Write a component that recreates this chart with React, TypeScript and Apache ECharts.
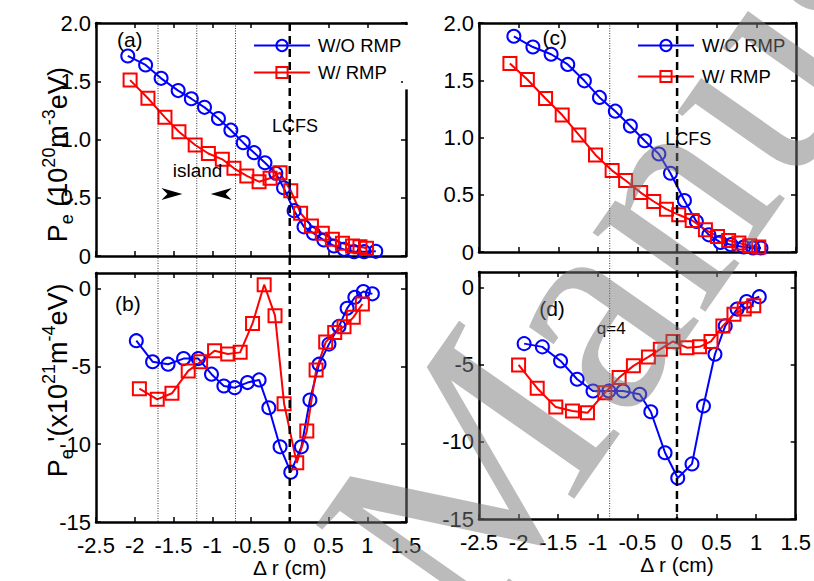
import React, { useEffect, useRef } from "react";
import * as echarts from "echarts";

// ---------- data ----------
const xTicks = ["-2.5", "-2", "-1.5", "-1", "-0.5", "0", "0.5", "1", "1.5"];
const seriesNames = ["W/O RMP", "W/ RMP"];

// (a) Pe profile
const aBlueX = [-2.09, -1.86, -1.66, -1.44, -1.27, -1.1, -0.92, -0.76, -0.6, -0.46, -0.32, -0.18, -0.08, 0.056, 0.184, 0.305, 0.44, 0.57, 0.7, 0.83, 0.96, 1.11];
const aBlueY = [1.717, 1.64, 1.525, 1.42, 1.35, 1.276, 1.18, 1.08, 0.973, 0.887, 0.8, 0.71, 0.586, 0.389, 0.25, 0.195, 0.137, 0.086, 0.057, 0.037, 0.037, 0.04];
const aRedX = [-2.06, -1.83, -1.61, -1.43, -1.22, -1.05, -0.87, -0.72, -0.554, -0.396, -0.254, -0.125, 0.013, 0.14, 0.28, 0.42, 0.55, 0.68, 0.81, 0.906, 0.99];
const aRedY = [1.51, 1.354, 1.19, 1.067, 0.953, 0.88, 0.83, 0.753, 0.687, 0.638, 0.667, 0.715, 0.56, 0.367, 0.258, 0.195, 0.143, 0.109, 0.086, 0.08, 0.066];

// (b) Pe' profile
const bBlueX = [-1.98, -1.77, -1.57, -1.37, -1.18, -1.01, -0.85, -0.71, -0.545, -0.395, -0.27, -0.125, 0.013, 0.15, 0.26, 0.378, 0.506, 0.635, 0.74, 0.84, 0.95, 1.066];
const bBlueY = [-3.35, -4.7, -4.86, -4.5, -4.5, -5.5, -6.26, -6.37, -6.04, -5.87, -7.66, -10.17, -11.8, -10.17, -7.16, -4.86, -3.57, -2.43, -1.27, -0.56, -0.19, -0.34];
const bRedX = [-1.94, -1.71, -1.52, -1.31, -1.15, -0.97, -0.8, -0.64, -0.48, -0.33, -0.19, -0.073, 0.09, 0.22, 0.34, 0.464, 0.58, 0.7, 0.82, 0.937];
const bRedY = [-6.43, -7.12, -6.73, -5.29, -4.71, -4.0, -4.2, -4.1, -2.24, 0.25, -1.74, -7.4, -11.2, -9.16, -5.24, -3.44, -2.82, -2.45, -1.85, -0.99];

// (c) Pe profile
const cBlueX = [-2.06, -1.82, -1.59, -1.38, -1.17, -0.98, -0.78, -0.59, -0.41, -0.23, -0.084, 0.092, 0.243, 0.4, 0.546, 0.68, 0.84, 0.958, 1.058];
const cBlueY = [1.884, 1.79, 1.727, 1.638, 1.495, 1.35, 1.23, 1.1, 0.972, 0.856, 0.688, 0.45, 0.267, 0.15, 0.084, 0.064, 0.044, 0.035, 0.035];
const cRedX = [-2.11, -1.89, -1.66, -1.45, -1.24, -1.03, -0.82, -0.65, -0.46, -0.295, -0.135, 0.02, 0.19, 0.357, 0.51, 0.65, 0.78, 0.916, 1.03];
const cRedY = [1.646, 1.507, 1.341, 1.196, 1.022, 0.848, 0.711, 0.624, 0.519, 0.441, 0.374, 0.325, 0.275, 0.194, 0.136, 0.101, 0.078, 0.055, 0.044];

// (d) Pe' profile
const dBlueX = [-1.93, -1.7, -1.47, -1.26, -1.06, -0.86, -0.68, -0.47, -0.33, -0.15, 0.01, 0.19, 0.335, 0.48, 0.61, 0.76, 0.88, 1.04];
const dBlueY = [-3.64, -3.85, -4.76, -5.95, -6.71, -6.71, -6.71, -6.92, -8.05, -10.71, -12.34, -11.43, -7.68, -4.33, -2.49, -1.4, -0.91, -0.6];
const dRedX = [-2.0, -1.765, -1.53, -1.32, -1.13, -0.91, -0.73, -0.55, -0.36, -0.21, -0.05, 0.126, 0.285, 0.43, 0.58, 0.72, 0.85, 0.97];
const dRedY = [-5.02, -6.53, -7.75, -8.0, -8.12, -6.82, -5.84, -5.08, -4.5, -4.0, -3.5, -3.9, -3.85, -3.5, -2.49, -1.73, -1.4, -1.19];

const islandLines = [-1.7, -1.2, -0.7];
const q4Line = [-0.85];
const lcfs = 0;

const FONT = "'Liberation Sans', Arial, sans-serif";
const TICKFONT = "'Liberation Sans Narrow', 'Arial Narrow', 'Liberation Sans', sans-serif";
const BLUE = "#0000ff";
const RED = "#ff0000";

const grids = [
  { left: 96, top: 23, width: 310, height: 233 },
  { left: 96, top: 273, width: 310, height: 249 },
  { left: 479, top: 23, width: 317, height: 229 },
  { left: 479, top: 272, width: 317, height: 247 },
];

function xAxes(gi: number, showLabels: boolean) {
  const base = {
    type: "value",
    gridIndex: gi,
    min: -2.5,
    max: 1.5,
    interval: 0.5,
    splitLine: { show: false },
    axisLine: { show: true, onZero: false, lineStyle: { color: "#000", width: 2.5 } },
    axisTick: { show: true, inside: true, length: 5, lineStyle: { color: "#000", width: 1.5 } },
  };
  return [
    {
      ...base,
      position: "bottom",
      axisLabel: {
        show: showLabels,
        margin: 12,
        color: "#000",
        fontFamily: TICKFONT,
        fontSize: 22,
        formatter: (v: number) => {
          const i = Math.round((v + 2.5) / 0.5);
          return xTicks[i] ?? "";
        },
      },
    },
    { ...base, position: "top", axisLabel: { show: false } },
  ];
}

function yAxes(gi: number, top: boolean) {
  const base: any = {
    type: "value",
    gridIndex: gi,
    min: top ? 0 : -15,
    max: top ? 2 : 1,
    interval: top ? 0.5 : 5,
    splitLine: { show: false },
    axisLine: { show: true, onZero: false, lineStyle: { color: "#000", width: 2.5 } },
    axisTick: { show: true, inside: true, length: 5, lineStyle: { color: "#000", width: 1.5 } },
  };
  return [
    {
      ...base,
      position: "left",
      axisLabel: {
        show: true,
        margin: 5,
        color: "#000",
        fontFamily: TICKFONT,
        fontSize: 22,
        showMaxLabel: top,
        formatter: top
          ? (v: number) => (v === 0 ? "0" : v.toFixed(1))
          : (v: number) => (Math.abs(v % 5) < 1e-9 ? String(v) : ""),
      },
    },
    { ...base, position: "right", axisLabel: { show: false } },
  ];
}

function mkSeries(name: string, xs: number[], ys: number[], gi: number, color: string, symbol: string) {
  return {
    type: "line",
    name,
    xAxisIndex: 2 * gi,
    yAxisIndex: 2 * gi,
    data: xs.map((x, i) => [x, ys[i]]),
    symbol,
    symbolSize: 13,
    showAllSymbol: true,
    clip: false,
    z: 3,
    lineStyle: { color, width: 2 },
    itemStyle: { color: "rgba(255,255,255,0)", borderColor: color, borderWidth: 2 },
  };
}

function legendAt(left: number, top: number, name: string) {
  return {
    left,
    top,
    orient: "vertical",
    itemWidth: 56,
    itemHeight: 14,
    selectedMode: false,
    data: [name],
    textStyle: { color: "#000", fontFamily: FONT, fontSize: 18.5, padding: [0, 0, 0, 3] },
  };
}

export default function App() {
  const ref = useRef<HTMLDivElement>(null);
  useEffect(() => {
    if (!ref.current) return;
    const chart = echarts.init(ref.current, undefined, { renderer: "svg" });
    const option: any = {
      animation: false,
      backgroundColor: "#fff",
      grid: grids.map((g) => ({ ...g, containLabel: false })),
      xAxis: [...xAxes(0, false), ...xAxes(1, true), ...xAxes(2, false), ...xAxes(3, true)],
      yAxis: [...yAxes(0, true), ...yAxes(1, false), ...yAxes(2, true), ...yAxes(3, false)],
      legend: [
        legendAt(248, 31, seriesNames[0]),
        legendAt(248, 58, seriesNames[1]),
        legendAt(632, 31, seriesNames[0]),
        legendAt(632, 62, seriesNames[1]),
      ],
      series: [
        mkSeries(seriesNames[0], aBlueX, aBlueY, 0, BLUE, "circle"),
        mkSeries(seriesNames[1], aRedX, aRedY, 0, RED, "rect"),
        mkSeries(seriesNames[0], bBlueX, bBlueY, 1, BLUE, "circle"),
        mkSeries(seriesNames[1], bRedX, bRedY, 1, RED, "rect"),
        mkSeries(seriesNames[0], cBlueX, cBlueY, 2, BLUE, "circle"),
        mkSeries(seriesNames[1], cRedX, cRedY, 2, RED, "rect"),
        mkSeries(seriesNames[0], dBlueX, dBlueY, 3, BLUE, "circle"),
        mkSeries(seriesNames[1], dRedX, dRedY, 3, RED, "rect"),
      ],
    };
    chart.setOption(option);

    const px = (gi: number, x: number, y: number) =>
      chart.convertToPixel({ xAxisIndex: 2 * gi, yAxisIndex: 2 * gi } as any, [x, y]) as number[];

    const g: any[] = [];
    const vline = (topGi: number, botGi: number, x: number, yTop: number, yBot: number, dashed: boolean) => {
      const p1 = px(topGi, x, yTop);
      const p2 = px(botGi, x, yBot);
      g.push({
        type: "line",
        z: 10,
        silent: true,
        shape: { x1: p1[0], y1: p1[1], x2: p2[0], y2: p2[1] },
        style: dashed
          ? { stroke: "#000", lineWidth: 2.5, lineDash: [8, 5] }
          : { stroke: "#000", lineWidth: 0.8, lineDash: [1, 1.5] },
      });
    };
    islandLines.forEach((x) => vline(0, 1, x, 2, -15, false));
    q4Line.forEach((x) => vline(2, 3, x, 2, -15, false));
    vline(0, 1, lcfs, 2, -15, true);
    vline(2, 3, lcfs, 2, -15, true);

    // the top part of panel (a) right frame is hidden in the original
    const ar = px(0, 1.5, 2);
    const ar2 = px(0, 1.5, 1.43);
    g.push({ type: "rect", z: 5, silent: true, shape: { x: ar[0] - 3, y: ar[1] + 2, width: 7, height: ar2[1] - ar[1] - 2 }, style: { fill: "#fff" } });

    const txt = (gi: number, x: number, y: number, text: string, size: number, align = "left") => {
      const p = px(gi, x, y);
      g.push({
        type: "text",
        z: 12,
        silent: true,
        x: p[0],
        y: p[1],
        style: { text, fill: "#000", fontFamily: FONT, fontSize: size, align, verticalAlign: "middle" },
      });
    };
    txt(0, -2.23, 1.855, "(a)", 21);
    txt(1, -2.255, -0.97, "(b)", 21);
    txt(2, -1.7, 1.87, "(c)", 21);
    txt(3, -1.74, -1.38, "(d)", 21);
    txt(0, 0.068, 1.116, "LCFS", 18, "center");
    txt(2, 0.139, 0.987, "LCFS", 18, "center");
    txt(0, -1.19, 0.738, "island", 19, "center");
    txt(3, -0.83, -2.68, "q=4", 17, "center");

    // island arrows
    const arrow = (gi: number, x: number, y: number, dir: number) => {
      const p = px(gi, x, y);
      const pts = [[0, 0], [-21, -6], [-15, 0], [-21, 6]].map(([dx, dy]) => [p[0] + dir * dx, p[1] + dy]);
      g.push({ type: "polygon", z: 12, silent: true, shape: { points: pts }, style: { fill: "#000" } });
    };
    arrow(0, -1.385, 0.532, 1);
    arrow(0, -1.02, 0.532, -1);

    // axis titles
    const rich = {
      n: { fontFamily: FONT, fontSize: 27, lineHeight: 36, verticalAlign: "middle", fill: "#000" },
      sup: { fontFamily: FONT, fontSize: 18, lineHeight: 18, verticalAlign: "top", fill: "#000" },
      sub: { fontFamily: FONT, fontSize: 18, lineHeight: 18, verticalAlign: "bottom", fill: "#000" },
    };
    const ytitle = (x: number, y: number, text: string) => {
      g.push({
        type: "text",
        z: 12,
        silent: true,
        x,
        y,
        rotation: Math.PI / 2,
        style: { text, rich, align: "center", verticalAlign: "middle", fill: "#000" },
      });
    };
    const a0 = px(0, -2.5, 0.87);
    const b0 = px(1, -2.5, -5.9);
    ytitle(a0[0] - 38, a0[1], "{n|P}{sub|e}{n| (10}{sup|20}{n|m}{sup|-3}{n|eV)}");
    ytitle(b0[0] - 38, b0[1], "{n|P}{sub|e}{n| '(x10}{sup|21}{n|m}{sup|-4}{n|eV)}");

    [1, 3].forEach((gi) => {
      const p = px(gi, 0, -15);
      g.push({
        type: "text",
        z: 12,
        silent: true,
        x: p[0],
        y: p[1] + 45,
        style: { text: "\u0394 r (cm)", fill: "#000", fontFamily: FONT, fontSize: 21, align: "center", verticalAlign: "middle" },
      });
    });

    // watermark
    g.push({
      type: "text",
      z: 100,
      silent: true,
      x: 512,
      y: 673,
      rotation: (55 * Math.PI) / 180,
      style: {
        text: "Manuscript",
        fontFamily: "'Liberation Serif', 'DejaVu Serif', serif",
        fontSize: 300,
        fill: "rgba(120,120,120,0.5)",
        align: "left",
        verticalAlign: "bottom",
      },
    });

    chart.setOption({ graphic: g });
    return () => chart.dispose();
  }, []);
  return <div ref={ref} style={{ position: "fixed", left: 0, top: 0, width: 814, height: 581 }} />;
}
